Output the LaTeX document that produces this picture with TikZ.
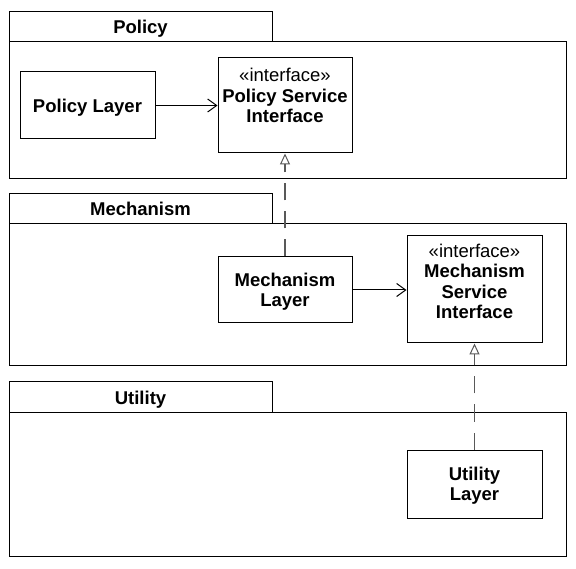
\documentclass[tikz,border=0pt]{standalone}
\usepackage{fontspec}
\setmainfont{Liberation Sans}
\usetikzlibrary{arrows.meta}
\tikzset{
  pkg/.style={draw, line width=1pt, inner sep=0pt},
  tabtext/.style={font=\fontsize{18.5}{20}\selectfont\bfseries, text height=13.3pt, text depth=0pt},
  cls/.style={draw, line width=1pt, fill=white, align=center, inner sep=0pt, text depth=0pt, font=\fontsize{18.5}{20.5}\selectfont\bfseries},
  usearrow/.style={line width=1pt, -{Straight Barb[length=9pt, width=13pt]}},
  realize/.style={line width=1.2pt, draw=black!65, dash pattern=on 17pt off 11pt, -{Triangle[open, length=11pt, width=10pt, fill=white, line width=1pt]}}
}
\begin{document}
\begin{tikzpicture}[x=1pt, y=-1pt, font=\fontsize{18.5}{20.5}\selectfont]
  \useasboundingbox (0,0) rectangle (576,569);
  % Policy package
  \node[pkg, tabtext, minimum width=263pt, minimum height=30pt] (policytab) at (140.5,27) {Policy};
  \node[pkg, minimum width=557pt, minimum height=137pt] (policybody) at (287.5,110.5) {};
  % Mechanism package
  \node[pkg, tabtext, minimum width=263pt, minimum height=30pt] (mechtab) at (140.5,209) {Mechanism};
  \node[pkg, minimum width=557pt, minimum height=142pt] (mechbody) at (287.5,295) {};
  % Utility package
  \node[pkg, tabtext, minimum width=263pt, minimum height=31pt] (utiltab) at (140.5,397.5) {Utility};
  \node[pkg, minimum width=557pt, minimum height=143pt] (utilbody) at (287.5,484.5) {};
  % Classes
  \node[cls, minimum width=135pt, minimum height=67pt] (policylayer) at (87.5,105.5) {Policy Layer};
  \node[cls, minimum width=134pt, minimum height=95pt] (psi) at (285,105.5) {};
  \node[below, align=center, inner sep=0pt] (psitext) at ([yshift=-10.5pt]psi.north) {«interface»\\\textbf{Policy Service}\\\textbf{Interface}};
  \node[cls, minimum width=134pt, minimum height=66pt] (mechlayer) at (285,290) {Mechanism\\Layer};
  \node[cls, minimum width=135pt, minimum height=107pt] (msi) at (474.5,289.5) {};
  \node[below, align=center, inner sep=0pt] (msitext) at ([yshift=-8pt]msi.north) {«interface»\\\textbf{Mechanism}\\\textbf{Service}\\\textbf{Interface}};
  \node[cls, minimum width=135pt, minimum height=68pt] (utillayer) at (474.5,484) {Utility\\Layer};
  % Connectors
  \draw[usearrow] (policylayer.east) -- (policylayer.east -| psi.west);
  \draw[usearrow] (mechlayer.east) -- (mechlayer.east -| msi.west);
  \draw[realize] (mechlayer.north) -- (psi.south);
  \draw[realize] (utillayer.north) -- (msi.south);
\end{tikzpicture}
\end{document}
